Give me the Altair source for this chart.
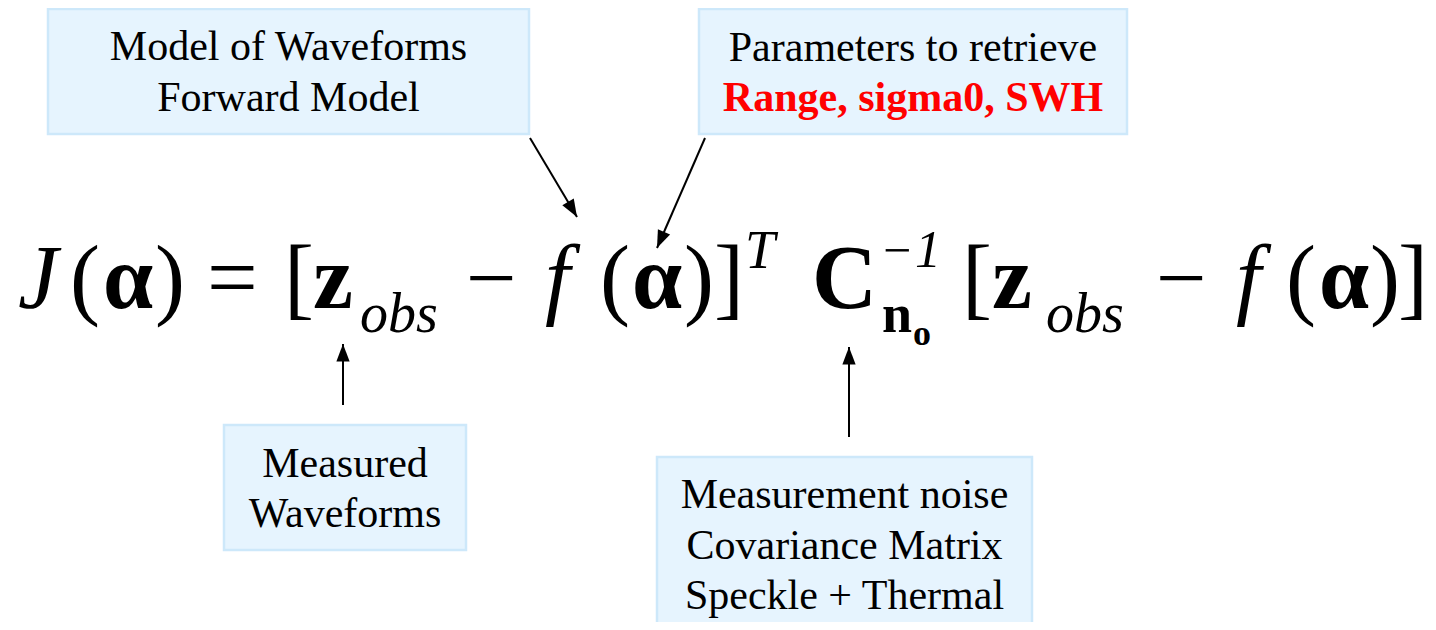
import math
import altair as alt
import pandas as pd

# ---------------- content ----------------
BOX_LINES = [
    ["Model of Waveforms", "Forward Model"],
    ["Parameters to retrieve", "Range, sigma0, SWH"],
    ["Measured", "Waveforms"],
    ["Measurement noise", "Covariance Matrix", "Speckle + Thermal"],
]
LINE_IS_RED = [
    [False, False],
    [False, True],
    [False, False],
    [False, False, False],
]
EQ_TOKENS = ["J", "(", "α", ")", "=", "[", "z", "obs", "−", "f", "(", "α", ")", "]",
             "T", "C", "−", "1", "n", "o",
             "[", "z", "obs", "−", "f", "(", "α", ")", "]"]

# ---------------- layout (pixel space of the picture) ----------------
FONT = "Liberation Serif, Times New Roman, serif"
BOX_RECTS = [(48, 9, 529, 134), (699, 9, 1127, 134), (224, 425, 466, 550), (657, 457, 1032, 660)]
BOX_BASELINES = [[60, 111], [61, 111], [477, 527], [508, 559, 609]]
BOX_FONT = 42

# token: x, baseline y, size, style
EQ_LAYOUT = [
    (18, 308, 90, "i"), (70, 308, 90, "n"), (103, 308, 90, "b"), (155, 308, 90, "n"),
    (207, 308, 90, "n"), (284, 308, 90, "n"), (313, 308, 90, "b"), (360, 332, 56, "i"),
    (466, 308, 90, "n"), (545, 308, 90, "i"), (600, 308, 90, "n"), (632, 308, 90, "b"),
    (684, 308, 90, "n"), (714, 308, 90, "n"),
    (745, 268, 54, "i"), (812, 308, 90, "b"), (883, 267, 50, "n"), (915, 267, 52, "i"),
    (882, 332, 54, "b"), (913, 345, 36, "b"),
    (962, 308, 90, "n"), (992, 308, 90, "b"), (1046, 332, 56, "i"),
    (1156, 308, 90, "n"), (1236, 308, 90, "i"), (1286, 308, 90, "n"), (1319, 308, 90, "b"),
    (1370, 308, 90, "n"), (1398, 308, 90, "n"),
]

# arrows: start -> tip
ARROWS = [((530, 138), (577, 217)), ((705, 138), (657, 248)),
          ((343, 405), (343, 344)), ((849, 437), (849, 347))]

# ---------------- tables ----------------
rects = pd.DataFrame([{"x": a, "y": b, "x2": c, "y2": d} for a, b, c, d in BOX_RECTS])

box_rows = []
for (x0, y0, x1, y1), lines, reds, bases in zip(BOX_RECTS, BOX_LINES, LINE_IS_RED, BOX_BASELINES):
    for t, r, yb in zip(lines, reds, bases):
        box_rows.append({"text": t, "x": (x0 + x1) / 2, "y": yb, "red": r})
box_df = pd.DataFrame(box_rows)

eq_df = pd.DataFrame([{"text": t, "x": x, "y": y, "size": s, "style": st}
                      for t, (x, y, s, st) in zip(EQ_TOKENS, EQ_LAYOUT)])

arrow_rows = []
for (sx, sy), (tx, ty) in ARROWS:
    ang = math.degrees(math.atan2(tx - sx, -(ty - sy))) % 360
    arrow_rows.append({"x": sx, "y": sy, "x2": tx, "y2": ty, "angle": ang})
arrow_df = pd.DataFrame(arrow_rows)

XS = alt.Scale(domain=[8, 1428], nice=False, zero=False)
YS = alt.Scale(domain=[8, 622], nice=False, zero=False, reverse=True)

def X(f="x"):
    return alt.X(f"{f}:Q", scale=XS, axis=None)

def Y(f="y"):
    return alt.Y(f"{f}:Q", scale=YS, axis=None)

boxes = alt.Chart(rects).mark_rect(fill="#E6F4FE", stroke="#CDE8FA", strokeWidth=2.5).encode(
    x=X(), y=Y(), x2="x2:Q", y2="y2:Q")

box_black = alt.Chart(box_df).transform_filter("!datum.red").mark_text(
    font=FONT, fontSize=BOX_FONT, align="center", baseline="alphabetic", color="black"
).encode(x=X(), y=Y(), text="text:N")

box_red = alt.Chart(box_df).transform_filter("datum.red").mark_text(
    font=FONT, fontSize=BOX_FONT, fontWeight="bold", align="center", baseline="alphabetic", color="#FF0000"
).encode(x=X(), y=Y(), text="text:N")

def eq_layer(style, **kw):
    return alt.Chart(eq_df).transform_filter(f"datum.style == '{style}'").mark_text(
        font=FONT, align="left", baseline="alphabetic", color="black", **kw
    ).encode(x=X(), y=Y(), text="text:N", size=alt.Size("size:Q", scale=None))

eq_n = eq_layer("n")
eq_i = eq_layer("i", fontStyle="italic")
eq_b = eq_layer("b", fontWeight="bold")

lines = alt.Chart(arrow_df).mark_rule(color="black", strokeWidth=2).encode(
    x=X(), y=Y(), x2="x2:Q", y2="y2:Q")

heads = alt.Chart(arrow_df).mark_point(
    shape="M0,0L-0.38,1L0.38,1Z", filled=True, color="black", opacity=1, size=1225
).encode(x=X("x2"), y=Y("y2"), angle=alt.Angle("angle:Q", scale=None))

chart = alt.layer(boxes, box_black, box_red, lines, heads, eq_n, eq_i, eq_b).properties(
    width=1420, height=614, autosize=alt.AutoSizeParams(type="none"), padding=0
).configure_view(strokeWidth=0)

chart.save("out.html", embed_options={"renderer": "svg", "actions": False})
